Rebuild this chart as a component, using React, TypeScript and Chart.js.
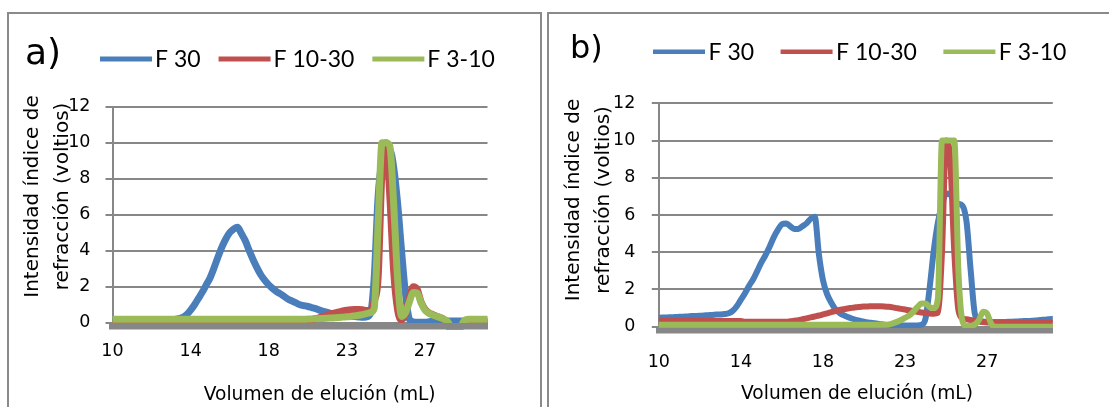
import React, { useEffect, useRef } from "react";
import { Chart, registerables } from "chart.js";

Chart.register(...registerables);

// ---- data ----
const categories: string[] = Array.from({ length: 97 }, (_, i) => String(i));
const tickLabels = ["10", "14", "18", "23", "27"];
const tickEvery = 20;
const yTicks = [0, 2, 4, 6, 8, 10, 12];
const seriesNames = ["F 30", "F 10-30", "F 3-10"];

const aF30 = [
  0.15, 0.15, 0.15, 0.15, 0.15, 0.15, 0.15, 0.15, 0.15, 0.15, 0.15, 0.15, 0.15, 0.15, 0.15, 0.15,
  0.18, 0.22, 0.3, 0.45, 0.7, 1.0, 1.35, 1.7, 2.1, 2.5, 3.05, 3.65, 4.2, 4.65, 5.0, 5.2, 5.3, 4.95,
  4.55, 4.0, 3.5, 3.05, 2.65, 2.35, 2.1, 1.9, 1.73, 1.6, 1.45, 1.3, 1.2, 1.1, 1.0, 0.95, 0.9, 0.84,
  0.78, 0.7, 0.63, 0.57, 0.52, 0.47, 0.43, 0.4, 0.38, 0.36, 0.34, 0.32, 0.3, 0.32, 0.5, 2.5, 7.0,
  9.0, 9.6, 9.6, 8.6, 6.6, 4.0, 1.6, 0.2, 0.05, 0.03, 0.03, 0.03, 0.05, 0.08,
  0.1, 0.1, 0.1, 0.1, 0.1, 0.1, 0.1, 0.1, 0.1, 0.1, 0.1, 0.1, 0.1, 0.1,
];
const aF1030 = [
  0, 0, 0, 0, 0, 0, 0, 0, 0, 0, 0, 0, 0, 0, 0, 0, 0, 0, 0, 0, 0, 0, 0, 0, 0, 0, 0, 0, 0, 0,
  0, 0, 0, 0, 0, 0, 0, 0, 0, 0, 0, 0, 0, 0, 0,
  0.02, 0.03, 0.05, 0.08, 0.11, 0.14, 0.18, 0.22, 0.28, 0.35, 0.43, 0.5, 0.55, 0.6, 0.65, 0.69,
  0.72, 0.74, 0.74, 0.72, 0.68, 0.7, 1.2, 2.5, 8.5, 10, 7.0, 2.8, 0.7, 0.15, 0.5, 1.4, 2.0, 1.85,
  1.15, 0.75, 0.55, 0.45, 0.36, 0.28, 0.15, -0.2, -0.5, -0.5, -0.3,
  0, 0, 0, 0, 0, 0, 0,
];
const aF310 = [
  0.19, 0.19, 0.19, 0.19, 0.19, 0.19, 0.19, 0.19, 0.19, 0.19, 0.19, 0.19, 0.19, 0.19, 0.19, 0.19,
  0.19, 0.19, 0.19, 0.19, 0.19, 0.19, 0.19, 0.19, 0.19, 0.19, 0.19, 0.19, 0.19, 0.19, 0.19, 0.19,
  0.19, 0.19, 0.19, 0.19, 0.19, 0.19, 0.19, 0.19, 0.19, 0.19, 0.19, 0.19, 0.19, 0.19, 0.19, 0.19,
  0.19, 0.19,
  0.2, 0.21, 0.22, 0.23, 0.24, 0.25, 0.26, 0.27, 0.29, 0.31, 0.33, 0.35, 0.38, 0.41, 0.45, 0.5,
  0.56, 0.8, 5.5, 10, 10, 9.8, 6.5, 2.4, 0.35, 0.55, 1.15, 1.68, 1.65, 1.1, 0.7, 0.52, 0.43, 0.35,
  0.27, 0.18, 0.0, -0.45, -0.5, -0.3, 0.1,
  0.19, 0.19, 0.19, 0.19, 0.19, 0.19,
];

const bF30 = [
  0.48, 0.49, 0.5, 0.51, 0.52, 0.53, 0.54, 0.55, 0.57, 0.58, 0.59, 0.6, 0.62, 0.63, 0.65, 0.66,
  0.68, 0.72, 0.85, 1.1, 1.45, 1.8, 2.2, 2.55, 3.0, 3.45, 3.85, 4.3, 4.8, 5.2, 5.5, 5.55, 5.4,
  5.25, 5.25, 5.4, 5.55, 5.8, 5.9, 3.9, 2.5, 1.75, 1.3, 0.95, 0.75, 0.62, 0.52, 0.44, 0.37, 0.32,
  0.27, 0.23, 0.2, 0.17, 0.14, 0.11, 0.09, 0.08, 0.07, 0.07, 0.07, 0.07, 0.07, 0.07, 0.1, 0.45,
  2.1, 4.1, 5.6, 6.55, 7.15, 7.1, 6.7, 6.6, 6.5, 5.6, 3.0, 0.7, 0.32, 0.28, 0.26, 0.25, 0.25,
  0.25, 0.25, 0.26, 0.27, 0.28, 0.29, 0.3, 0.31, 0.32, 0.34, 0.36, 0.38, 0.4, 0.42,
];
const bF1030 = [
  0.32, 0.32, 0.32, 0.32, 0.32, 0.32, 0.32, 0.32, 0.32, 0.32, 0.32,
  0.3, 0.3, 0.3, 0.3, 0.3, 0.3, 0.3, 0.3, 0.3, 0.3,
  0.27, 0.27, 0.27, 0.27, 0.27, 0.27, 0.27, 0.27, 0.27, 0.27, 0.27,
  0.29, 0.32, 0.35, 0.4, 0.45, 0.5, 0.55, 0.6, 0.66, 0.72, 0.78, 0.84, 0.9, 0.94, 0.98, 1.01,
  1.04, 1.06, 1.08, 1.09, 1.1, 1.1, 1.1, 1.09, 1.07, 1.04, 1.0, 0.96, 0.92, 0.88, 0.84, 0.8,
  0.76, 0.73, 0.71, 0.7, 0.75, 4.0, 10, 9.0, 4.0, 0.9, 0.45, 0.4, 0.36, 0.32, 0.28, 0.25, 0.23,
  0.22,
  0.2, 0.2, 0.2, 0.2, 0.2, 0.2, 0.2, 0.2, 0.2, 0.2, 0.2, 0.2, 0.2, 0.2, 0.2,
];
const bF310 = [
  0.1, 0.1, 0.1, 0.1, 0.1, 0.1, 0.1, 0.1, 0.1, 0.1, 0.1, 0.1, 0.1, 0.1, 0.1, 0.1, 0.1, 0.1, 0.1,
  0.1, 0.1, 0.1, 0.1, 0.1, 0.1, 0.1, 0.1, 0.1, 0.1, 0.1, 0.1, 0.1, 0.1, 0.1, 0.1, 0.1, 0.1, 0.1,
  0.1, 0.1, 0.1, 0.1, 0.1, 0.1, 0.1, 0.1, 0.1, 0.1, 0.1, 0.1, 0.1, 0.1, 0.1, 0.1, 0.1, 0.1,
  0.12, 0.18, 0.26, 0.36, 0.48, 0.6, 0.8, 1.05, 1.25, 1.25, 1.05, 1.0, 1.5, 10, 10, 10, 10, 3.0,
  0.3, 0.02, 0.05, 0.12, 0.35, 0.8, 0.7, 0.15,
  0, 0, 0, 0, 0, 0, 0, 0, 0, 0, 0, 0, 0, 0, 0,
];

const colors = ["#4A7EBB", "#C0504D", "#9BBB59"];
const gridGray = "#878787";
const comic = "'DejaVu Sans'";

type Panel = {
  letter: string;
  letterFont: string;
  letterX: number;
  letterY: number;
  W: number;
  H: number;
  area: { left: number; top: number; right: number; bottom: number };
  lineWidth: number;
  bandWidth: number;
  padX: number;
  padY: number;
  legend: { x: number; y: number; base: number; len: number; lineW: number; gapText: number; gapItem: number };
  yTitle: { xs: number[]; cy: number };
  xTitle: { cx: number; base: number };
  series: number[][];
};

const panelA: Panel = {
  letter: "a)",
  letterFont: `36px ${comic}`,
  letterX: 25,
  letterY: 63.5,
  W: 545,
  H: 407,
  area: { left: 112.5, top: 106.7, right: 487.5, bottom: 326.66 },
  lineWidth: 7,
  bandWidth: 6.5,
  padX: 14,
  padY: 15,
  legend: { x: 100, y: 59, base: 66.5, len: 52, lineW: 5, gapText: 3, gapItem: 18 },
  yTitle: { xs: [38.3, 67.6], cy: 196.5 },
  xTitle: { cx: 319.7, base: 399.5 },
  series: [aF30, aF1030, aF310],
};

const panelB: Panel = {
  letter: "b)",
  letterFont: `32px ${comic}`,
  letterX: 25,
  letterY: 57.5,
  W: 564,
  H: 407,
  area: { left: 113.8, top: 103.3, right: 507.8, bottom: 330.8 },
  lineWidth: 6,
  bandWidth: 5.5,
  padX: 21,
  padY: 16.5,
  legend: { x: 108, y: 51.7, base: 60, len: 52, lineW: 4.5, gapText: 3.5, gapItem: 26.5 },
  yTitle: { xs: [33.6, 64.1], cy: 200 },
  xTitle: { cx: 312, base: 399 },
  series: [bF30, bF1030, bF310],
};

function makeTextPlugin(p: Panel) {
  return {
    id: "panelText" + p.letter,
    afterDraw(chart: any) {
      const ctx: CanvasRenderingContext2D = chart.ctx;
      ctx.save();
      ctx.fillStyle = "#000";
      ctx.textBaseline = "alphabetic";
      ctx.textAlign = "left";
      ctx.font = p.letterFont;
      ctx.fillText(p.letter, p.letterX, p.letterY);

      // legend
      let x = p.legend.x;
      ctx.font = "23px Lato";
      chart.data.datasets.forEach((ds: any) => {
        ctx.strokeStyle = ds.borderColor;
        ctx.lineWidth = p.legend.lineW;
        ctx.lineCap = "butt";
        ctx.beginPath();
        ctx.moveTo(x, p.legend.y);
        ctx.lineTo(x + p.legend.len, p.legend.y);
        ctx.stroke();
        const tx = x + p.legend.len + p.legend.gapText;
        ctx.fillText(ds.label, tx, p.legend.base);
        x = tx + ctx.measureText(ds.label).width + p.legend.gapItem;
      });

      // y title (two lines, rotated)
      ctx.font = `20px ${comic}`;
      ctx.textAlign = "center";
      const lines = ["Intensidad índice de", "refracción (voltios)"];
      lines.forEach((t, k) => {
        ctx.save();
        ctx.translate(p.yTitle.xs[k], p.yTitle.cy);
        ctx.rotate(-Math.PI / 2);
        ctx.fillText(t, 0, 0);
        ctx.restore();
      });

      // x title
      ctx.font = `18.6px ${comic}`;
      ctx.fillText("Volumen de elución (mL)", p.xTitle.cx, p.xTitle.base);
      ctx.restore();
    },
  };
}

function PanelChart({ p, left }: { p: Panel; left: number }) {
  const ref = useRef<HTMLCanvasElement | null>(null);
  useEffect(() => {
    if (!ref.current) return;
    const tickFont = { family: "DejaVu Sans", size: 17.5 };
    const chart = new Chart(ref.current, {
      type: "line",
      data: {
        labels: categories,
        datasets: p.series.map((s, k) => ({
          label: seriesNames[k],
          data: s,
          borderColor: colors[k],
          backgroundColor: colors[k],
          borderWidth: p.lineWidth,
          pointRadius: 0,
          fill: false,
          cubicInterpolationMode: "monotone" as const,
          borderJoinStyle: "round" as const,
          borderCapStyle: "round" as const,
          order: 3 - k,
          clip: { left: 0, right: 0, top: 10, bottom: 3 },
        })),
      },
      options: {
        animation: false,
        responsive: false,
        events: [],
        layout: {
          padding: { left: 0, top: p.area.top, right: p.W - p.area.right, bottom: 0 },
        },
        plugins: {
          legend: { display: false },
          title: { display: false },
          tooltip: { enabled: false },
        },
        scales: {
          x: {
            type: "category",
            offset: false,
            grid: { display: false, drawTicks: false },
            border: { display: true, color: gridGray, width: p.bandWidth, z: 1 },
            ticks: {
              autoSkip: false,
              maxRotation: 0,
              minRotation: 0,
              padding: p.padX,
              color: "#000",
              font: tickFont,
              callback: (_v: any, idx: number) =>
                idx % tickEvery === 0 ? tickLabels[idx / tickEvery] ?? "" : "",
            },
            afterFit: (scale: any) => {
              scale.height = p.H - p.area.bottom;
            },
          },
          y: {
            min: -0.22,
            max: 12,
            grid: { color: gridGray, lineWidth: 2, drawTicks: true, tickLength: 7 },
            border: { display: true, color: gridGray, width: 2 },
            ticks: { padding: p.padY, color: "#000", font: tickFont },
            afterBuildTicks: (scale: any) => {
              scale.ticks = yTicks.map((v) => ({ value: v }));
            },
            afterFit: (scale: any) => {
              scale.width = p.area.left;
            },
          },
        },
      },
      plugins: [makeTextPlugin(p)],
    } as any);
    return () => chart.destroy();
  }, [p]);
  return (
    <canvas
      ref={ref}
      width={p.W}
      height={p.H}
      style={{ position: "absolute", left, top: 0, width: p.W, height: p.H }}
    />
  );
}

export default function App() {
  return (
    <div
      style={{
        position: "fixed",
        left: 0,
        top: 0,
        width: 1109,
        height: 407,
        background: "#fff",
        overflow: "hidden",
      }}
    >
      <div
        style={{
          position: "absolute",
          left: 7,
          top: 12,
          width: 535,
          height: 440,
          border: "2px solid #8a8a8a",
          boxSizing: "border-box",
        }}
      />
      <div
        style={{
          position: "absolute",
          left: 547,
          top: 12,
          width: 620,
          height: 440,
          border: "2px solid #8a8a8a",
          boxSizing: "border-box",
        }}
      />
      <PanelChart p={panelA} left={0} />
      <PanelChart p={panelB} left={545} />
    </div>
  );
}
